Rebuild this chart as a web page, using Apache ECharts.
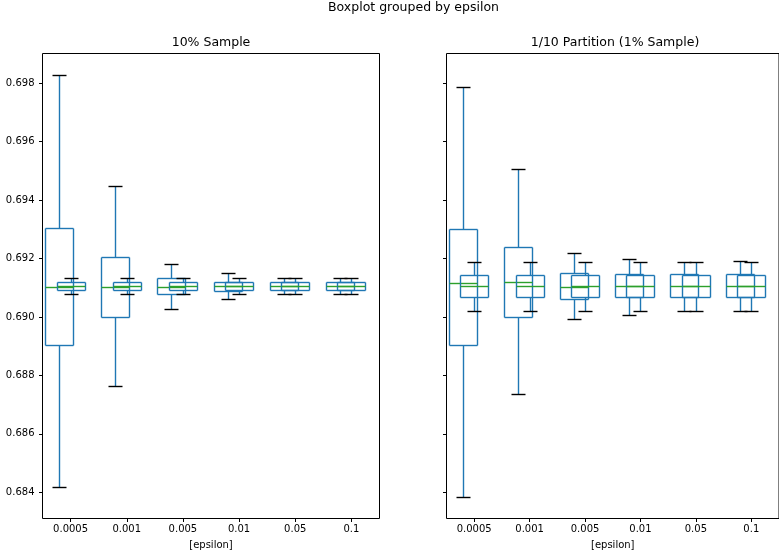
<!DOCTYPE html>
<html><head><meta charset="utf-8">
<script src="https://cdn.jsdelivr.net/npm/echarts@6/dist/echarts.min.js"></script>
<style>html,body{margin:0;padding:0;background:#fff}#c{width:779px;height:557px}</style>
</head><body><div id="c"></div>
<script>
const categories = ['0.0005', '0.001', '0.005', '0.01', '0.05', '0.1'];
const yTicks = [0.684, 0.686, 0.688, 0.690, 0.692, 0.694, 0.696, 0.698];
const yMin = 0.68310, yMax = 0.69902;
// each box: [lower whisker, Q1, median, Q3, upper whisker]
const sample10Wide = [
  [0.68419, 0.68905, 0.69103, 0.69305, 0.69830],
  [0.68763, 0.69001, 0.69103, 0.69206, 0.69450],
  [0.69028, 0.69079, 0.69103, 0.69132, 0.69181],
  [0.69061, 0.69089, 0.69107, 0.69120, 0.69149],
  [0.69077, 0.69091, 0.69107, 0.69118, 0.69134],
  [0.69077, 0.69091, 0.69107, 0.69118, 0.69134]
];
const sample10Narrow = [
  [0.69077, 0.69091, 0.69107, 0.69118, 0.69134],
  [0.69077, 0.69091, 0.69107, 0.69118, 0.69134],
  [0.69077, 0.69091, 0.69107, 0.69118, 0.69134],
  [0.69077, 0.69091, 0.69107, 0.69118, 0.69134],
  [0.69077, 0.69091, 0.69107, 0.69118, 0.69134],
  [0.69077, 0.69091, 0.69107, 0.69118, 0.69134]
];
const partitionWide = [
  [0.68385, 0.68905, 0.69115, 0.69300, 0.69787],
  [0.68737, 0.69001, 0.69120, 0.69241, 0.69505],
  [0.68994, 0.69062, 0.69103, 0.69151, 0.69219],
  [0.69008, 0.69069, 0.69107, 0.69146, 0.69197],
  [0.69020, 0.69069, 0.69107, 0.69146, 0.69188],
  [0.69020, 0.69069, 0.69107, 0.69146, 0.69191]
];
const partitionNarrow = [
  [0.69019, 0.69069, 0.69107, 0.69143, 0.69189],
  [0.69019, 0.69069, 0.69107, 0.69143, 0.69189],
  [0.69019, 0.69069, 0.69107, 0.69143, 0.69189],
  [0.69019, 0.69069, 0.69107, 0.69143, 0.69189],
  [0.69019, 0.69069, 0.69107, 0.69143, 0.69189],
  [0.69019, 0.69069, 0.69107, 0.69143, 0.69189]
];

const FONT = 'DejaVu Sans';
const BLUE = '#1f77b4', GREEN = '#2ca02c';

function lineEl(x1, y1, x2, y2, color, w) {
  return { type: 'line', shape: { x1: x1, y1: y1, x2: x2, y2: y2 },
    style: { stroke: color, lineWidth: w, fill: null, opacity: 1 } };
}

function makeRender(offset) {
  return function (params, api) {
    const i = api.value(0);
    const cx = api.coord([i, api.value(3)])[0] + offset;
    const ys = [1, 2, 3, 4, 5].map(k => Math.round(api.coord([i, api.value(k)])[1]) + 0.5);
    const half = 14, cap = 7, w = 1.4;
    const x0 = Math.round(cx - half) + 0.5, x1 = x0 + 2 * half;
    const xm = Math.round(cx) + 0.5;
    return {
      type: 'group',
      children: [
        lineEl(xm, ys[4], xm, ys[3], BLUE, w),
        lineEl(xm, ys[1], xm, ys[0], BLUE, w),
        lineEl(x0, ys[3], x1, ys[3], BLUE, w),
        lineEl(x0, ys[1], x1, ys[1], BLUE, w),
        lineEl(x0, ys[3], x0, ys[1], BLUE, w),
        lineEl(x1, ys[3], x1, ys[1], BLUE, w),
        lineEl(xm - cap, ys[4], xm + cap, ys[4], '#000', w),
        lineEl(xm - cap, ys[0], xm + cap, ys[0], '#000', w),
        lineEl(x0, ys[2], x1, ys[2], GREEN, w)
      ]
    };
  };
}

function toData(arr) { return arr.map((v, i) => [i].concat(v)); }

function xAxisCfg(idx) {
  return {
    type: 'category', gridIndex: idx, data: categories,
    name: '[epsilon]', nameLocation: 'middle', nameGap: 21.5,
    nameTextStyle: { fontFamily: FONT, fontSize: 10, color: '#000' },
    axisLine: { show: false },
    axisTick: { show: true, alignWithLabel: true, length: 3.5, lineStyle: { color: '#000' } },
    axisLabel: { fontFamily: FONT, fontSize: 10, color: '#000', margin: 6, interval: 0 },
    splitLine: { show: false }
  };
}
function yAxisCfg(idx, labels) {
  return {
    type: 'value', gridIndex: idx, min: yMin, max: yMax,
    axisLine: { show: false },
    axisTick: { show: true, length: 3.5, lineStyle: { color: '#000' }, customValues: yTicks },
    axisLabel: { show: labels, fontFamily: FONT, fontSize: 10, color: '#000', margin: 8,
      customValues: yTicks, formatter: v => v.toFixed(3) },
    splitLine: { show: false }
  };
}

const chart = echarts.init(document.getElementById('c'), null, { renderer: 'canvas' });
chart.setOption({
  animation: false,
  backgroundColor: '#fff',
  grid: [
    { left: 42.5, top: 53.5, width: 337, height: 465, show: true, borderColor: '#000', borderWidth: 1, backgroundColor: 'transparent' },
    { left: 446.5, top: 53.5, width: 337, height: 465, show: true, borderColor: '#000', borderWidth: 1, backgroundColor: 'transparent' }
  ],
  xAxis: [xAxisCfg(0), xAxisCfg(1)],
  yAxis: [yAxisCfg(0, true), yAxisCfg(1, false)],
  graphic: [
    { type: 'text', x: 413.5, y: 8, style: { text: 'Boxplot grouped by epsilon', fontFamily: FONT, fontSize: 12.5, fill: '#000', align: 'center', verticalAlign: 'middle' } },
    { type: 'text', x: 211, y: 43, style: { text: '10% Sample', fontFamily: FONT, fontSize: 12.5, fill: '#000', align: 'center', verticalAlign: 'middle' } },
    { type: 'text', x: 615, y: 43, style: { text: '1/10 Partition (1% Sample)', fontFamily: FONT, fontSize: 12.5, fill: '#000', align: 'center', verticalAlign: 'middle' } }
  ],
  series: [
    { type: 'custom', name: '10% wide', xAxisIndex: 0, yAxisIndex: 0, renderItem: makeRender(-11.5), encode: { x: 0, y: [1, 2, 3, 4, 5] }, data: toData(sample10Wide), silent: true },
    { type: 'custom', name: '10% narrow', xAxisIndex: 0, yAxisIndex: 0, renderItem: makeRender(0), encode: { x: 0, y: [1, 2, 3, 4, 5] }, data: toData(sample10Narrow), silent: true },
    { type: 'custom', name: 'part wide', xAxisIndex: 1, yAxisIndex: 1, renderItem: makeRender(-11.5), encode: { x: 0, y: [1, 2, 3, 4, 5] }, data: toData(partitionWide), silent: true },
    { type: 'custom', name: 'part narrow', xAxisIndex: 1, yAxisIndex: 1, renderItem: makeRender(0), encode: { x: 0, y: [1, 2, 3, 4, 5] }, data: toData(partitionNarrow), silent: true }
  ]
});
</script></body></html>
